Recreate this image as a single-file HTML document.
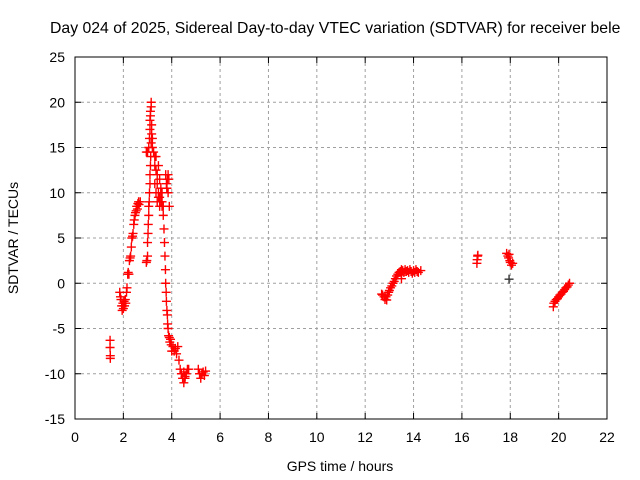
<!DOCTYPE html>
<html><head><meta charset="utf-8"><style>
body{margin:0;background:#fff;overflow:hidden;}
svg{display:block;font-family:"Liberation Sans",sans-serif;}
</style></head><body>
<svg id="c" width="640" height="480">
<text x="50" y="33" text-anchor="start" font-size="15.8" fill="#000">Day 024 of 2025, Sidereal Day-to-day VTEC variation (SDTVAR) for receiver bele</text>
<text x="340" y="471" text-anchor="middle" font-size="14">GPS time / hours</text>
<text transform="translate(18,238) rotate(-90)" text-anchor="middle" font-size="14">SDTVAR / TECUs</text>
<g id="grid"></g><g id="axes"></g><g id="marks"></g>
</svg>
<script>
const xTicks=[0,2,4,6,8,10,12,14,16,18,20,22];
const yTicks=[-15,-10,-5,0,5,10,15,20,25];
const redX=[1.45,1.45,1.46,1.46,1.85,1.88,1.9,1.93,1.95,1.98,2.0,2.03,2.05,2.08,2.1,2.13,2.15,2.18,2.2,2.23,2.25,2.28,2.3,2.33,2.35,2.38,2.4,2.43,2.45,2.48,2.5,2.53,2.55,2.58,2.6,2.63,2.65,2.7,
2.95,2.97,3.0,3.0,3.02,3.03,3.05,3.05,3.07,3.08,3.1,3.1,3.12,3.13,3.15,3.17,2.95,3.0,3.05,3.08,3.1,3.1,3.12,3.12,3.15,3.15,3.17,3.2,
3.2,3.25,3.3,3.3,3.35,3.35,3.4,3.4,3.45,3.45,3.5,3.5,3.55,3.55,3.6,3.6,3.65,3.3,3.35,3.4,3.45,3.5,3.55,3.6,
3.65,3.68,3.7,3.72,3.74,3.75,3.77,3.78,3.8,3.82,3.83,3.85,3.87,3.9,3.92,3.95,
3.75,3.78,3.8,3.82,3.85,3.88,3.9,3.8,3.85,
3.98,4.0,4.05,4.1,4.15,4.2,4.25,4.3,4.35,4.4,4.45,4.5,4.55,4.6,4.65,4.7,4.5,4.55,
5.1,5.15,5.2,5.25,5.3,5.35,5.4,
12.68,12.72,12.78,12.82,12.86,12.89,12.93,12.97,13.0,13.05,13.1,13.15,13.2,13.25,13.3,13.35,13.4,13.45,13.5,13.55,13.6,13.65,13.7,13.75,13.8,13.85,13.9,13.95,14.0,14.05,14.1,14.15,14.2,14.3,13.5,13.5,
16.62,16.63,16.65,16.66,
17.85,17.9,17.93,17.95,17.98,18.0,18.05,18.1,
19.78,19.8,19.85,19.9,19.95,20.0,20.05,20.1,20.15,20.2,20.25,20.3,20.35,20.4,20.45];
const redY=[-6.3,-7.1,-8.0,-8.3,-1.0,-1.5,-1.8,-2.5,-3.0,-2.2,-2.8,-2.0,-2.5,-1.8,-2.2,-1.0,-0.5,1.0,1.2,1.0,2.5,2.8,3.0,4.0,5.0,5.2,5.5,6.5,7.0,7.5,7.8,8.0,8.5,8.2,8.8,9.0,8.7,9.0,
2.3,2.5,3.0,4.5,5.5,6.5,7.5,8.5,9.0,10.0,11.0,12.0,13.0,14.0,15.5,16.5,14.5,14.5,15.0,16.0,17.0,18.0,18.5,19.0,19.5,20.0,17.5,16.0,
15.0,14.5,14.0,13.0,14.0,12.5,12.0,11.0,13.0,10.0,11.5,9.5,10.5,9.0,10.0,8.5,8.5,11.0,10.0,9.0,9.5,8.5,10.0,9.0,
7.5,6.0,4.5,3.0,1.5,0.0,-1.0,-2.0,-3.0,-3.5,-4.5,-5.0,-5.8,-6.0,-6.5,-6.2,
12.0,11.0,10.5,11.5,10.0,11.5,8.5,10.5,12.0,
-6.8,-7.5,-7.0,-7.5,-7.2,-7.8,-7.0,-8.5,-9.5,-10.0,-10.5,-11.0,-10.5,-10.0,-9.5,-9.5,-9.8,-10.3,
-9.5,-10.0,-10.5,-10.0,-9.8,-10.2,-9.7,
-1.2,-1.3,-1.5,-1.8,-1.5,-1.85,-1.3,-1.0,-0.8,-0.5,-0.3,0.0,0.2,0.5,0.8,1.0,1.2,1.3,1.5,1.4,1.2,1.5,1.3,1.4,1.2,1.5,1.3,1.1,1.4,1.2,1.5,1.3,1.2,1.4,0.5,0.9,
2.2,2.6,3.0,3.1,
3.3,3.0,2.8,3.2,2.5,2.3,2.0,2.2,
-2.6,-2.2,-2.0,-1.8,-1.7,-1.5,-1.3,-1.2,-1.0,-0.9,-0.7,-0.5,-0.4,-0.2,0.0];
const darkX=[17.95];
const darkY=[0.45];
const NS="http://www.w3.org/2000/svg";
const L=75,R=607,T=57,B=419;
const xs=v=>L+(v-0)/(22-0)*(R-L);
const ys=v=>B-(v+15)/(40)*(B-T);
function mk(t,a,p){const e=document.createElementNS(NS,t);for(const k in a)e.setAttribute(k,a[k]);p.appendChild(e);return e;}
const grid=document.getElementById('grid'),axes=document.getElementById('axes'),marks=document.getElementById('marks');
xTicks.forEach(v=>{const x=xs(v);
 if(v>0&&v<22){const g=mk('line',{x1:x,x2:x,y1:T,y2:B,stroke:'#a0a0a0','stroke-dasharray':'3,3'},grid);
 
 }
 mk('line',{x1:x,x2:x,y1:B,y2:B-6,stroke:'#000'},axes);mk('line',{x1:x,x2:x,y1:T,y2:T+6,stroke:'#000'},axes);
 const t=mk('text',{x:x,y:B+23,'text-anchor':'middle','font-size':14},axes);t.textContent=v;
 
 });
yTicks.forEach(v=>{const y=ys(v);
 if(v>-15&&v<25){const g=mk('line',{x1:L,x2:R,y1:y,y2:y,stroke:'#a0a0a0','stroke-dasharray':'3,3'},grid);
 
 }
 mk('line',{x1:L,x2:L+6,y1:y,y2:y,stroke:'#000'},axes);mk('line',{x1:R,x2:R-6,y1:y,y2:y,stroke:'#000'},axes);
 const t=mk('text',{x:L-10,y:y+5,'text-anchor':'end','font-size':14},axes);t.textContent=v;
 
 });
const fr=mk('rect',{x:L,y:T,width:R-L,height:B-T,fill:'none',stroke:'#000'},axes);


function plus(x,y,c){const p=mk('path',{d:`M${x-4.5},${y}h9M${x},${y-4.5}v9`,stroke:c,'stroke-width':1.4,fill:'none'},marks);
 
 }
redX.forEach((v,i)=>plus(xs(v),ys(redY[i]),'#ff0000'));
darkX.forEach((v,i)=>plus(xs(v),ys(darkY[i]),'#333'));
</script>
</body></html>
